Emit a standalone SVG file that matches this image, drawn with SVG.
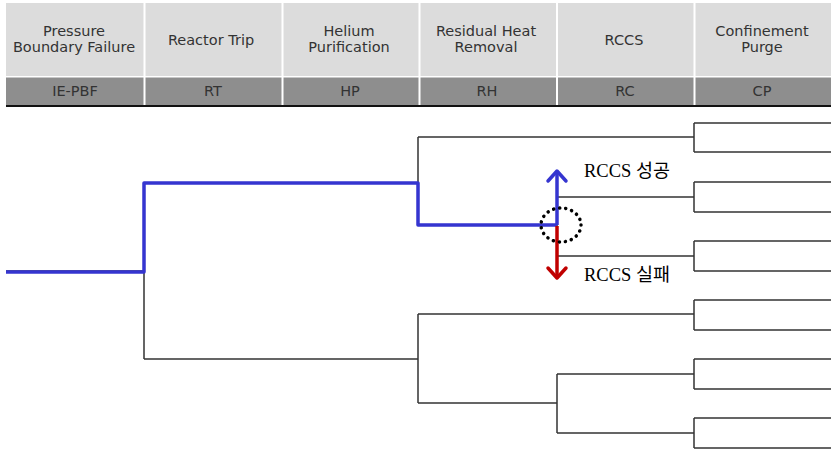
<svg xmlns="http://www.w3.org/2000/svg" width="831" height="458" viewBox="0 0 831 458">
<defs>
<style>
.hl{fill:#dcdcdc}
.hd{fill:#8e8e8e}
.ht{font-family:"DejaVu Sans",Verdana,sans-serif;font-size:14.5px;fill:#333;text-anchor:middle}
.tr{fill:none;stroke:#333;stroke-width:1.5}
.bl{fill:none;stroke:#3535d0;stroke-width:3.5;stroke-linejoin:round}
.lb{font-family:"Liberation Serif","Noto Sans CJK KR",serif;font-size:18.5px;fill:#000}
</style>
</defs>
<rect width="831" height="458" fill="#fff"/>
<g id="header">
<rect x="6" y="3" width="825" height="73" class="hl"/>
<rect x="6" y="77" width="825" height="28" class="hd"/>
<rect x="6" y="105" width="825" height="2" fill="#111"/>
<g fill="#fff">
<rect x="143.5" y="3" width="2" height="102"/>
<rect x="281.5" y="3" width="2" height="102"/>
<rect x="418.5" y="3" width="2" height="102"/>
<rect x="556" y="3" width="2" height="102"/>
<rect x="693.5" y="3" width="2" height="102"/>
<rect x="6" y="76" width="825" height="1.5"/>
</g>
<g id="col-pbf"><text class="ht" x="74" y="36">Pressure</text><text class="ht" x="74" y="52">Boundary Failure</text><text class="ht" x="75" y="96">IE-PBF</text></g>
<g id="col-rt"><text class="ht" x="211" y="45">Reactor Trip</text><text class="ht" x="213" y="96">RT</text></g>
<g id="col-hp"><text class="ht" x="349" y="36">Helium</text><text class="ht" x="349" y="52">Purification</text><text class="ht" x="350" y="96">HP</text></g>
<g id="col-rh"><text class="ht" x="486" y="36">Residual Heat</text><text class="ht" x="486" y="52">Removal</text><text class="ht" x="487" y="96">RH</text></g>
<g id="col-rc"><text class="ht" x="624" y="45">RCCS</text><text class="ht" x="625" y="96">RC</text></g>
<g id="col-cp"><text class="ht" x="762" y="36">Confinement</text><text class="ht" x="762" y="52">Purge</text><text class="ht" x="762" y="96">CP</text></g>
</g>
<g id="connectors">
<path class="tr" d="M6,271 H144 M144,183 V359 M144,183 H418 M144,359 H418
M418,137 V225 M418,137 H694 M418,225 H557
M557,197 V256 M557,197 H694 M557,256 H694
M694,123 V152 M694,123 H831 M694,152 H831
M694,182 V212 M694,182 H831 M694,212 H831
M694,241 V271 M694,241 H831 M694,271 H831
M418,314 V403 M418,314 H694 M418,403 H557
M557,374 V433 M557,374 H694 M557,433 H694
M694,300 V330 M694,300 H831 M694,330 H831
M694,359 V389 M694,359 H831 M694,389 H831
M694,418 V448 M694,418 H831 M694,448 H831"/>
<path class="bl" d="M6,272 H144 V183 H418 V225 H557"/>
<g id="arrow-success">
<path d="M557,225 V172" fill="none" stroke="#3535d0" stroke-width="3.5"/>
<path d="M548,181 L557,171 L566,181" fill="none" stroke="#3535d0" stroke-width="3.5" stroke-linecap="round" stroke-linejoin="round"/>
</g>
<g id="arrow-failure">
<path d="M557,226 V277" fill="none" stroke="#c00000" stroke-width="3.5"/>
<path d="M548,268 L557,278 L566,268" fill="none" stroke="#c00000" stroke-width="3.5" stroke-linecap="round" stroke-linejoin="round"/>
</g>
<ellipse id="focus" cx="561" cy="225" rx="20" ry="17" fill="none" stroke="#000" stroke-width="3.5" stroke-dasharray="0.1 6" stroke-linecap="round"/>
</g>
<g id="labels">
<text class="lb" x="584" y="177">RCCS 성공</text>
<text class="lb" x="584" y="281">RCCS 실패</text>
</g>
</svg>
